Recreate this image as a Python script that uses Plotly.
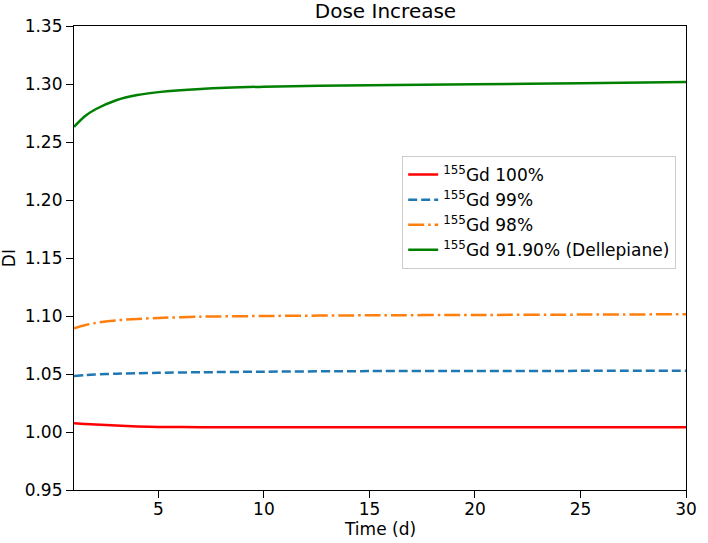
import plotly.graph_objects as go

# Data
time_d = [1, 1.5, 2, 3, 4, 5, 7, 10, 15, 20, 25, 30]
di_gd100 = [1.0075, 1.0070, 1.0065, 1.0056, 1.0048, 1.0044, 1.0042, 1.0041, 1.0041, 1.0041, 1.0041, 1.0041]
di_gd99 = [1.0483, 1.0490, 1.0495, 1.0502, 1.0506, 1.0510, 1.0515, 1.0520, 1.0525, 1.0526, 1.0527, 1.0528]
di_gd98 = [1.0894, 1.0920, 1.0940, 1.0962, 1.0975, 1.0983, 1.0994, 1.1000, 1.1006, 1.1009, 1.1012, 1.1015]
di_gd9190 = [1.2630, 1.2720, 1.2780, 1.2860, 1.2905, 1.2930, 1.2957, 1.2977, 1.2989, 1.2997, 1.3006, 1.3017]

names = ["<sup>155</sup>Gd 100%", "<sup>155</sup>Gd 99%", "<sup>155</sup>Gd 98%",
         "<sup>155</sup>Gd 91.90% (Dellepiane)"]
x_ticks = [5, 10, 15, 20, 25, 30]
y_ticks = [0.95, 1.00, 1.05, 1.10, 1.15, 1.20, 1.25, 1.30, 1.35]

FONT = "DejaVu Sans"
W, H = 708, 543
L, R, T, B = 74, 11, 26, 53
pw, ph = W - L - R, H - T - B

fig = go.Figure()
styles = [
    dict(color="#ff0000", dash="solid"),
    dict(color="#1f77b4", dash="9px,4px"),
    dict(color="#ff7f0e", dash="16px,4px,2.5px,4px"),
    dict(color="#008000", dash="solid"),
]
for ys, nm, st in zip([di_gd100, di_gd99, di_gd98, di_gd9190], names, styles):
    fig.add_trace(go.Scatter(x=time_d, y=ys, mode="lines", name=nm,
                             line=dict(color=st["color"], dash=st["dash"], width=2.5,
                                       shape="spline", smoothing=0.8)))

axis_common = dict(showline=True, linecolor="black", linewidth=1.2, mirror=True,
                   ticks="outside", ticklen=7, tickwidth=1.2, tickcolor="black",
                   showgrid=False, zeroline=False,
                   tickfont=dict(family=FONT, size=17, color="black"))
fig.update_xaxes(range=[1, 30], tickvals=x_ticks, ticklabelstandoff=-4, **axis_common)
fig.update_yaxes(range=[0.95, 1.35], tickvals=y_ticks, tickformat=".2f", **axis_common)

fig.update_layout(
    width=W, height=H,
    margin=dict(l=L, r=R, t=T, b=B),
    plot_bgcolor="white", paper_bgcolor="white",
    font=dict(family=FONT, size=17, color="black"),
    title=dict(text="Dose Increase", x=(L + pw / 2) / W, xanchor="center",
               y=1 - 11 / H, yanchor="middle", yref="container",
               font=dict(family=FONT, size=20, color="black")),
    legend=dict(x=(687 - L) / pw, xanchor="right", y=(490 - 156) / ph, yanchor="top",
                bgcolor="rgba(255,255,255,0.8)", bordercolor="#cccccc", borderwidth=1,
                font=dict(family=FONT, size=17, color="black")),
    showlegend=True,
    annotations=[
        dict(text="Time (d)", xref="paper", yref="paper", x=0.5, y=(490 - 529) / ph,
             xanchor="center", yanchor="middle", showarrow=False,
             font=dict(family=FONT, size=17, color="black")),
        dict(text="DI", xref="paper", yref="paper", x=(8 - L) / pw, y=0.5,
             xanchor="center", yanchor="middle", textangle=-90, showarrow=False,
             font=dict(family=FONT, size=17, color="black")),
    ],
)

fig.write_html("out.html", config={"displayModeBar": False},
               post_script="document.body.style.margin='0';document.body.style.overflow='hidden';")
